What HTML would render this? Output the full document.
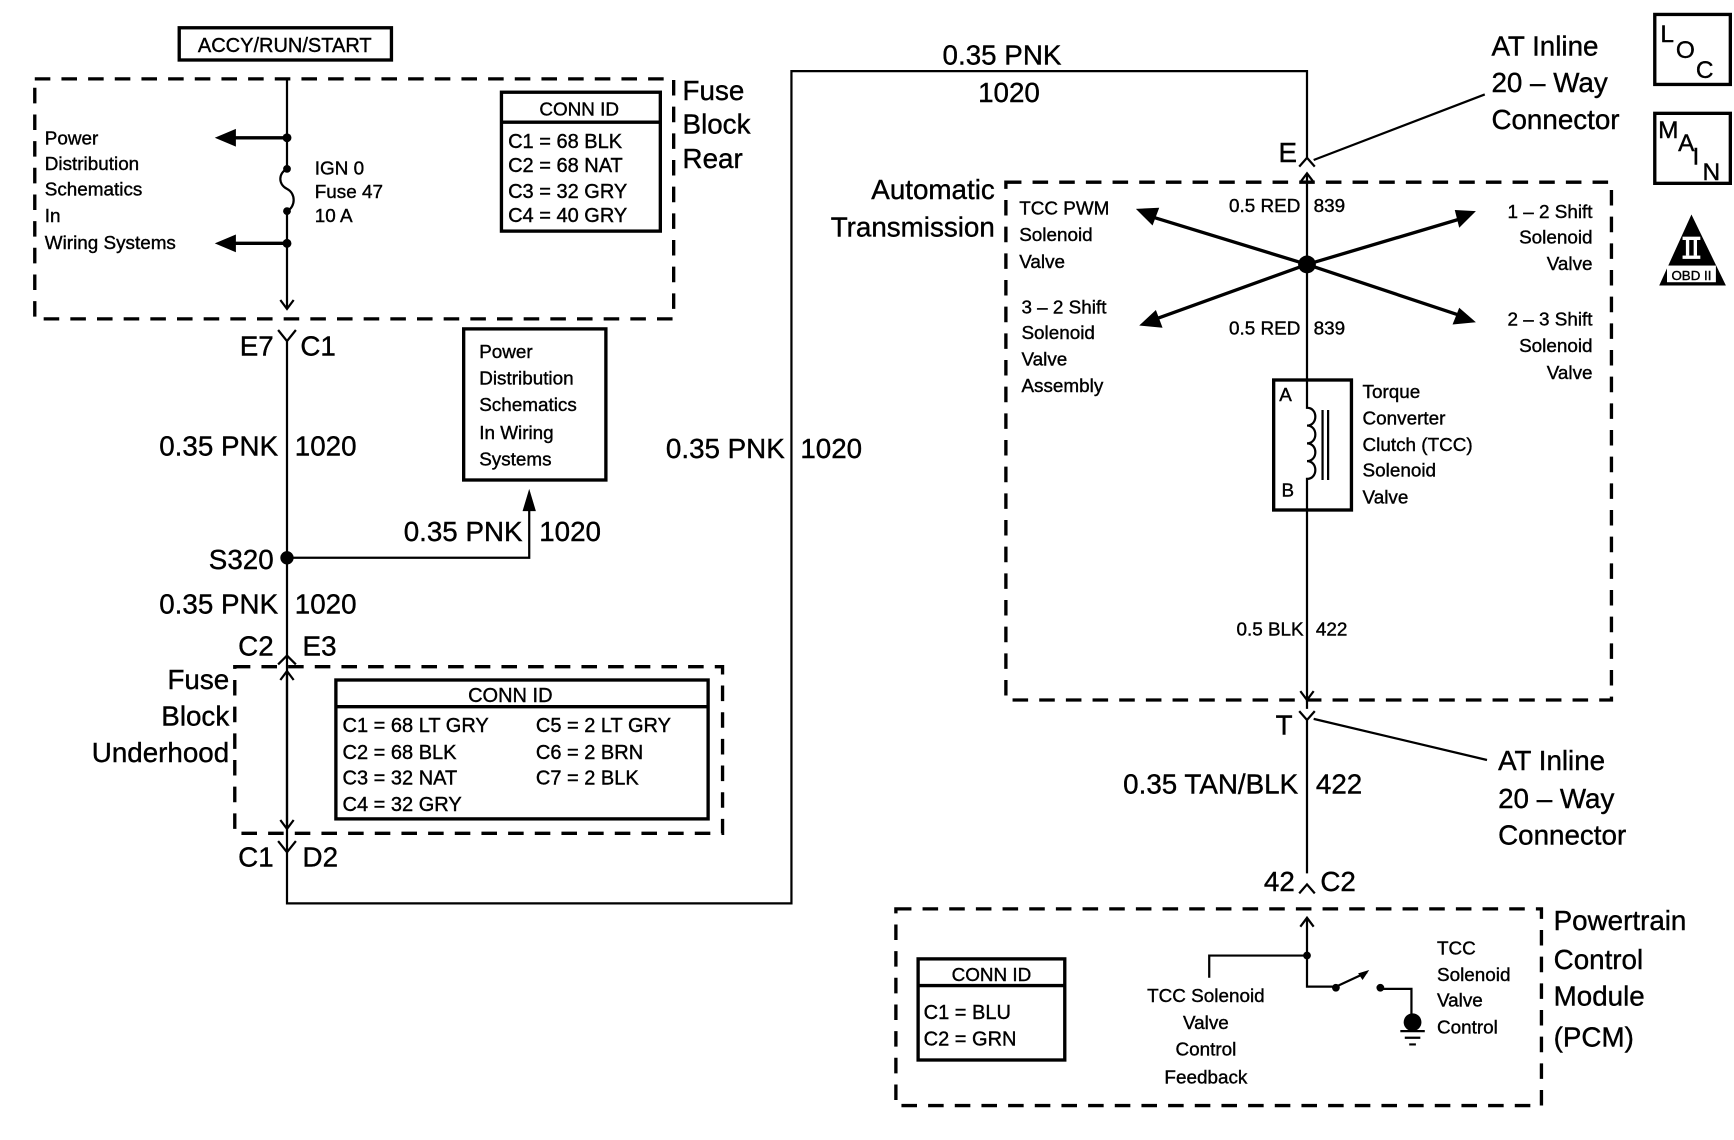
<!DOCTYPE html>
<html><head><meta charset="utf-8"><style>
html,body{margin:0;padding:0;background:#fff;}
svg{display:block;}
text{font-family:"Liberation Sans",Arial,sans-serif;fill:#000;stroke:#000;stroke-width:0.35;}
.L{font-size:25px;}
.M{font-size:18px;}
.S{font-size:17px;}
.X{font-size:22px;}
.r{text-anchor:end;}
.c{text-anchor:middle;}
.d{fill:none;stroke:#000;stroke-width:3;stroke-dasharray:14 10;}
.w{fill:none;stroke:#000;stroke-width:2;}
.b{fill:none;stroke:#000;stroke-width:3;}
</style></head><body>
<svg width="1734" height="1140" viewBox="0 0 1560 1026" xmlns="http://www.w3.org/2000/svg">
<rect x="161" y="25" width="191" height="29" class="b"/>
<text x="256" y="47" class="M c">ACCY/RUN/START</text>
<rect x="31" y="71" width="575" height="216" class="d"/>
<text x="614" y="90" class="L">Fuse</text><text x="614" y="120" class="L">Block</text><text x="614" y="151" class="L">Rear</text>
<path d="M258 71 V152 M258 190 V278" class="w"/>
<path d="M258 152 C250 156,250 166,258 170 C266 174,266 186,258 190" class="w"/>
<path d="M252 270 L258 278 L264 270" class="w"/>
<circle cx="258" cy="124" r="4"/><circle cx="258" cy="219" r="4"/><circle cx="258" cy="152" r="3.5"/><circle cx="258" cy="190" r="3.5"/>
<path d="M258 124 H210 M258 219 H210" class="b"/>
<path d="M193 124 L212 116 L212 132Z M193 219 L212 211 L212 227Z"/>
<text x="40" y="130" class="S">Power</text><text x="40" y="153" class="S">Distribution</text><text x="40" y="176" class="S">Schematics</text><text x="40" y="200" class="S">In</text><text x="40" y="224" class="S">Wiring Systems</text>
<text x="283" y="157" class="S">IGN 0</text><text x="283" y="178" class="S">Fuse  47</text><text x="283" y="200" class="S">10 A</text>
<rect x="451" y="83" width="143" height="125" class="b"/><path d="M451 110 H594" class="b"/>
<text x="521" y="104" class="S c">CONN ID</text>
<text x="457" y="133" class="M">C1 = 68 BLK</text><text x="457" y="155" class="M">C2 = 68 NAT</text><text x="457" y="178" class="M">C3 = 32 GRY</text><text x="457" y="200" class="M">C4 = 40 GRY</text>
<path d="M250 297 L258 307 L266 297 M258 307 V813 H712 V64 H1176 V143" class="w"/>
<text x="246" y="320" class="L r">E7</text><text x="270" y="320" class="L">C1</text>
<text x="250" y="410" class="L r">0.35 PNK</text><text x="265" y="410" class="L">1020</text>
<circle cx="258" cy="502" r="6"/>
<text x="246" y="512" class="L r">S320</text>
<path d="M258 502 H476 V458" class="w"/><path d="M476 440 L470 460 L482 460Z"/>
<text x="470" y="487" class="L r">0.35 PNK</text><text x="485" y="487" class="L">1020</text>
<rect x="417" y="296" width="128" height="136" class="b"/>
<text x="431" y="322" class="S">Power</text><text x="431" y="346" class="S">Distribution</text><text x="431" y="370" class="S">Schematics</text><text x="431" y="395" class="S">In Wiring</text><text x="431" y="419" class="S">Systems</text>
<text x="250" y="552" class="L r">0.35 PNK</text><text x="265" y="552" class="L">1020</text>
<path d="M250 598 L258 590 L266 598" class="w"/>
<text x="246" y="590" class="L r">C2</text><text x="272" y="590" class="L">E3</text>
<rect x="211" y="600" width="439" height="150" class="d"/>
<path d="M258 604 V746 M252 612 L258 604 L264 612 M252 738 L258 746 L264 738" class="w"/>
<text x="206" y="620" class="L r">Fuse</text><text x="206" y="653" class="L r">Block</text><text x="206" y="686" class="L r">Underhood</text>
<rect x="302" y="612" width="335" height="125" class="b"/><path d="M302 636 H637" class="b"/>
<text x="459" y="632" class="M c">CONN ID</text>
<text x="308" y="659" class="M">C1 = 68 LT GRY</text><text x="308" y="683" class="M">C2 = 68 BLK</text><text x="308" y="706" class="M">C3 = 32 NAT</text><text x="308" y="730" class="M">C4 = 32 GRY</text>
<text x="482" y="659" class="M">C5 = 2 LT GRY</text><text x="482" y="683" class="M">C6 = 2 BRN</text><text x="482" y="706" class="M">C7 = 2 BLK</text>
<path d="M250 757 L258 767 L266 757" class="w"/>
<text x="246" y="780" class="L r">C1</text><text x="272" y="780" class="L">D2</text>
<text x="706" y="412" class="L r">0.35 PNK</text><text x="720" y="412" class="L">1020</text>
<text x="848" y="58" class="L">0.35 PNK</text><text x="880" y="92" class="L">1020</text>
<path d="M1169 150 L1176 142 L1183 150" class="w"/>
<text x="1167" y="146" class="L r">E</text>
<path d="M1182 144 L1336 85" class="w"/>
<text x="1342" y="50" class="L">AT Inline</text><text x="1342" y="83" class="L">20 – Way</text><text x="1342" y="116" class="L">Connector</text>
<rect x="1489" y="13" width="68" height="63" class="b"/>
<text x="1494" y="38" class="X">L</text><text x="1508" y="52" class="X">O</text><text x="1526" y="70" class="X">C</text>
<rect x="1489" y="102" width="68" height="63" class="b"/>
<text x="1492" y="124" class="X">M</text><text x="1510" y="136" class="X">A</text><text x="1523" y="148" class="X">I</text><text x="1532" y="162" class="X">N</text>
<path d="M1522 193 L1553 257 L1493 257Z"/>
<rect x="1514" y="213" width="16" height="3" fill="#fff"/><rect x="1514" y="230" width="16" height="3" fill="#fff"/>
<rect x="1517" y="216" width="3" height="14" fill="#fff"/><rect x="1524" y="216" width="3" height="14" fill="#fff"/>
<rect x="1500" y="239" width="44" height="15" fill="#fff"/>
<text x="1522" y="252" class="c" style="font-size:12px">OBD II</text>
<rect x="905" y="164" width="545" height="466" class="d"/>
<text x="895" y="179" class="L r">Automatic</text><text x="895" y="213" class="L r">Transmission</text>
<path d="M1176 156 V341 M1176 459 V638 M1170 164 L1176 156 L1182 164 M1170 622 L1176 630 L1182 622" class="w"/>
<circle cx="1176" cy="238" r="8"/>
<path d="M1176 238 L1036 195 M1176 238 L1314 197 M1176 238 L1040 287 M1176 238 L1314 284" class="b"/>
<path d="M1022 188 L1043 187 L1037 203Z M1328 190 L1313 205 L1309 189Z M1025 293 L1040 279 L1046 295Z M1328 290 L1307 292 L1313 277Z"/>
<text x="1170" y="191" class="S r">0.5 RED</text><text x="1182" y="191" class="S">839</text>
<text x="1170" y="301" class="S r">0.5 RED</text><text x="1182" y="301" class="S">839</text>
<text x="917" y="193" class="S">TCC PWM</text><text x="917" y="217" class="S">Solenoid</text><text x="917" y="241" class="S">Valve</text>
<text x="919" y="282" class="S">3 – 2 Shift</text><text x="919" y="305" class="S">Solenoid</text><text x="919" y="329" class="S">Valve</text><text x="919" y="353" class="S">Assembly</text>
<text x="1433" y="196" class="S r">1 – 2 Shift</text><text x="1433" y="219" class="S r">Solenoid</text><text x="1433" y="243" class="S r">Valve</text>
<text x="1433" y="293" class="S r">2 – 3 Shift</text><text x="1433" y="317" class="S r">Solenoid</text><text x="1433" y="341" class="S r">Valve</text>
<rect x="1146" y="342" width="70" height="117" class="b"/>
<path d="M1176 341 V367 C1186 367,1186 383,1176 383 C1186 383,1186 399,1176 399 C1186 399,1186 415,1176 415 C1186 415,1186 431,1176 431 V459 M1190 369 V432 M1195 369 V432" class="w"/>
<text x="1151" y="361" class="S">A</text><text x="1153" y="447" class="S">B</text>
<text x="1226" y="358" class="S">Torque</text><text x="1226" y="382" class="S">Converter</text><text x="1226" y="406" class="S">Clutch (TCC)</text><text x="1226" y="429" class="S">Solenoid</text><text x="1226" y="453" class="S">Valve</text>
<text x="1173" y="572" class="S r">0.5 BLK</text><text x="1184" y="572" class="S">422</text>
<path d="M1169 640 L1176 648 L1183 640 M1176 648 V786" class="w"/>
<text x="1163" y="661" class="L r">T</text>
<path d="M1182 647 L1338 684" class="w"/>
<text x="1348" y="693" class="L">AT Inline</text><text x="1348" y="727" class="L">20 – Way</text><text x="1348" y="760" class="L">Connector</text>
<text x="1168" y="714" class="L r">0.35 TAN/BLK</text><text x="1184" y="714" class="L">422</text>
<path d="M1169 804 L1176 796 L1183 804" class="w"/>
<text x="1165" y="802" class="L r">42</text><text x="1188" y="802" class="L">C2</text>
<rect x="806" y="818" width="581" height="177" class="d"/>
<text x="1398" y="837" class="L">Powertrain</text><text x="1398" y="872" class="L">Control</text><text x="1398" y="905" class="L">Module</text><text x="1398" y="942" class="L">(PCM)</text>
<path d="M1176 826 V888 H1200 M1170 834 L1176 826 L1182 834 M1176 860 H1088 V880 M1200 889 L1230 875 M1242 890 H1270 V918" class="w"/>
<path d="M1232 873 L1222 876 L1226 882Z"/>
<circle cx="1176" cy="860" r="3.5"/><circle cx="1202" cy="889" r="3.5"/><circle cx="1242" cy="889" r="3.5"/>
<ellipse cx="1271" cy="920" rx="8" ry="8"/>
<path d="M1260 928 H1282 M1264 934 H1278 M1268 940 H1274" class="w"/>
<text x="1085" y="902" class="S c">TCC Solenoid</text><text x="1085" y="926" class="S c">Valve</text><text x="1085" y="950" class="S c">Control</text><text x="1085" y="975" class="S c">Feedback</text>
<text x="1293" y="859" class="S">TCC</text><text x="1293" y="883" class="S">Solenoid</text><text x="1293" y="906" class="S">Valve</text><text x="1293" y="930" class="S">Control</text>
<rect x="826" y="863" width="132" height="91" class="b"/><path d="M826 887 H958" class="b"/>
<text x="892" y="883" class="S c">CONN ID</text>
<text x="831" y="917" class="M">C1 = BLU</text><text x="831" y="941" class="M">C2 = GRN</text>
</svg>
</body></html>
